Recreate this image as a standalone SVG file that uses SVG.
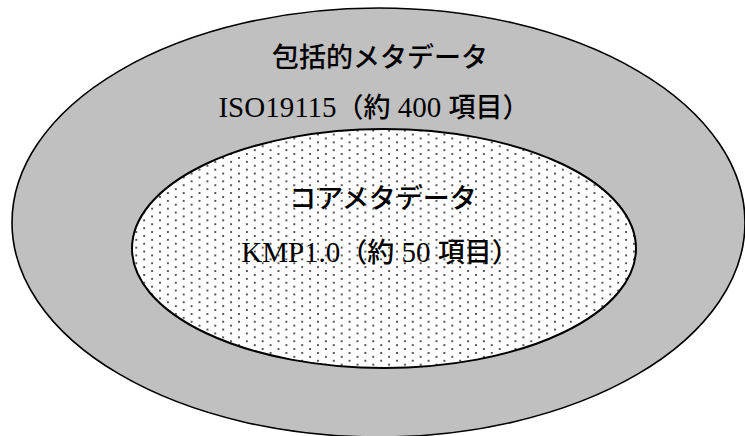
<svg xmlns="http://www.w3.org/2000/svg" width="745" height="436" viewBox="0 0 745 436">
  <style>
    .lbl { font-family: "Liberation Serif", "Noto Sans CJK JP", serif; font-size: 29px; fill: #000; text-anchor: middle; }
    .cjk { font-family: "Noto Sans CJK JP", sans-serif; font-weight: 500; font-size: 27px; }
  </style>
  <defs>
    <pattern id="dots" x="0" y="0" width="15.8" height="7.8" patternUnits="userSpaceOnUse">
      <rect width="15.8" height="7.8" fill="#fff"/>
      <circle cx="2" cy="2" r="1" fill="#222"/>
      <circle cx="9.9" cy="5.9" r="1" fill="#222"/>
    </pattern>
  </defs>
  <rect width="745" height="436" fill="#fff"/>
  <g id="outer">
    <ellipse cx="378.5" cy="222.5" rx="366.5" ry="214.5" fill="#c0c0c0" stroke="#000" stroke-width="1.6"/>
    <text class="lbl cjk" x="380" y="67">包括的メタデータ</text>
    <text class="lbl" x="374" y="117">ISO19115<tspan class="cjk">（約</tspan> 400 <tspan class="cjk">項目）</tspan></text>
  </g>
  <g id="inner">
    <ellipse cx="384" cy="248.5" rx="252" ry="119.5" fill="url(#dots)" stroke="#000" stroke-width="2"/>
    <text class="lbl cjk" x="383" y="208">コアメタデータ</text>
    <text class="lbl" x="380" y="262">KMP1.0<tspan class="cjk">（約</tspan> 50 <tspan class="cjk">項目）</tspan></text>
  </g>
  <g id="connectors"/>
</svg>
